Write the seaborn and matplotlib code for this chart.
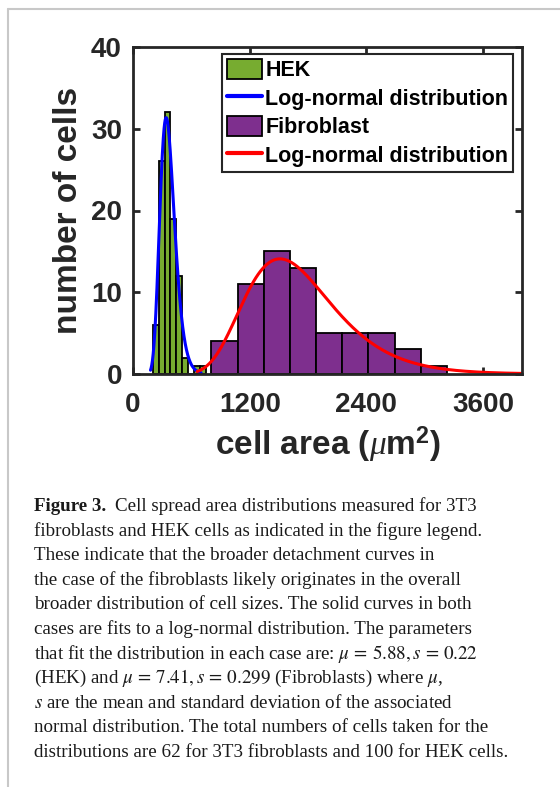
import numpy as np
import matplotlib
matplotlib.use("Agg")
import matplotlib.pyplot as plt
import seaborn as sns
from matplotlib.patches import Patch
from matplotlib.lines import Line2D

# histogram bins (cell area, um^2) and counts
hek_edges = [202, 263, 324, 385, 446, 507, 568, 629, 690, 751]
hek_counts = [6, 26, 32, 19, 12, 2, 0, 1, 1]
fib_edges = [807, 1076, 1345, 1614, 1883, 2152, 2421, 2690, 2959, 3228]
fib_counts = [4, 11, 15, 13, 5, 5, 5, 3, 1]

# log-normal fit parameters from the caption
hek_mu, hek_s = 5.88, 0.22
fib_mu, fib_s = 7.41, 0.299

x_ticks = [0, 1200, 2400, 3600]
y_ticks = [0, 10, 20, 30, 40]

caption_lines = [
    "fibroblasts and HEK cells as indicated in the figure legend.",
    "These indicate that the broader detachment curves in",
    "the case of the fibroblasts likely originates in the overall",
    "broader distribution of cell sizes. The solid curves in both",
    "cases are fits to a log-normal distribution. The parameters",
    r"that fit the distribution in each case are: $\mu\,=\,5.88, s\,=\,0.22$",
    r"(HEK) and $\mu\,=\,7.41, s\,=\,0.299$ (Fibroblasts) where $\mu$,",
    r"$s$ are the mean and standard deviation of the associated",
    "normal distribution. The total numbers of cells taken for the",
    "distributions are 62 for 3T3 fibroblasts and 100 for HEK cells.",
]

GREEN = "#77AC30"
PURPLE = "#7E2F8E"
DARK = "#262626"


def lognormal_curve(mu, s, scale, lo, hi):
    xs = np.linspace(lo, hi, 400)
    ys = scale / (xs * s * np.sqrt(2 * np.pi)) * np.exp(-(np.log(xs) - mu) ** 2 / (2 * s ** 2))
    return xs, ys


sns.set_style("ticks")
plt.rcParams["font.family"] = ["Liberation Sans", "DejaVu Sans"]
plt.rcParams["mathtext.fontset"] = "custom"
plt.rcParams["mathtext.it"] = "Liberation Serif:italic"
plt.rcParams["mathtext.bf"] = "Liberation Sans:bold"
plt.rcParams["mathtext.rm"] = "Liberation Sans:bold"

W, H = 560, 787
fig = plt.figure(figsize=(W / 100, H / 100), dpi=100)
ax = fig.add_axes([133 / W, 1 - 374 / H, (522 - 133) / W, (374 - 47) / H])

hek_centers = [(a + b) / 2 for a, b in zip(hek_edges[:-1], hek_edges[1:])]
fib_centers = [(a + b) / 2 for a, b in zip(fib_edges[:-1], fib_edges[1:])]

sns.histplot(x=hek_centers, weights=hek_counts, bins=hek_edges, ax=ax,
             color=GREEN, alpha=1, edgecolor="black", linewidth=1.3)
hek_scale = sum(hek_counts) * (hek_edges[1] - hek_edges[0])
xs, ys = lognormal_curve(hek_mu, hek_s, hek_scale, 180, 700)
sns.lineplot(x=xs, y=ys, ax=ax, color="blue", linewidth=2.2, sort=False)

sns.histplot(x=fib_centers, weights=fib_counts, bins=fib_edges, ax=ax,
             color=PURPLE, alpha=1, edgecolor="black", linewidth=1.3)
fib_scale = sum(fib_counts) * (fib_edges[1] - fib_edges[0])
xs, ys = lognormal_curve(fib_mu, fib_s, fib_scale, 660, 4000)
sns.lineplot(x=xs, y=ys, ax=ax, color="red", linewidth=2.2, sort=False)

ax.set_xlim(0, 4000)
ax.set_ylim(0, 40)
ax.set_xticks(x_ticks)
ax.set_yticks(y_ticks)
ax.tick_params(axis="both", direction="in", length=5, width=2, top=True, right=True,
               labelsize=20, colors=DARK)
ax.tick_params(axis="x", pad=13)
ax.tick_params(axis="y", pad=8)
for lbl in ax.get_xticklabels() + ax.get_yticklabels():
    lbl.set_fontweight("bold")
for sp in ax.spines.values():
    sp.set_visible(True)
    sp.set_linewidth(2)
    sp.set_color(DARK)

ax.set_xlabel(r"cell area ($\mu$m$^{\mathbf{2}}$)", fontsize=24, fontweight="bold",
              color=DARK, labelpad=5)
ax.set_ylabel("number of cells", fontsize=24, fontweight="bold", color=DARK, labelpad=5)

handles = [
    Patch(facecolor=GREEN, edgecolor="black", linewidth=1.3),
    Line2D([], [], color="blue", linewidth=3),
    Patch(facecolor=PURPLE, edgecolor="black", linewidth=1.3),
    Line2D([], [], color="red", linewidth=3),
]
labels = ["HEK", "Log-normal distribution", "Fibroblast", "Log-normal distribution"]
leg = ax.legend(handles, labels, loc="upper right", bbox_to_anchor=(513 / W, 1 - 54 / H),
                bbox_transform=fig.transFigure, fancybox=False, framealpha=1,
                edgecolor=DARK, fontsize=15.5, handlelength=1.65, handleheight=1.1,
                handletextpad=0.15, borderpad=0.22, borderaxespad=0, labelspacing=0.27)
leg.get_frame().set_linewidth(1.5)
for t in leg.get_texts():
    t.set_fontweight("bold")
    t.set_color("black")

# caption
cap_kw = dict(fontsize=13.7, fontweight="normal", family=["Liberation Serif", "DejaVu Serif"],
              color="#1a1a1a", va="baseline", ha="left", math_fontfamily="stix")
x0 = 34 / W
y_first = 511
spacing = 24.6
fig.canvas.draw()
renderer = fig.canvas.get_renderer()
t0 = fig.text(x0, 1 - y_first / H, "Figure 3.", **{**cap_kw, "fontweight": "bold"})
bb = t0.get_window_extent(renderer)
fig.text((bb.x1 + 9) / W, 1 - y_first / H,
         "Cell spread area distributions measured for 3T3", **cap_kw)
for i, line in enumerate(caption_lines, start=1):
    fig.text(x0, 1 - (y_first + i * spacing) / H, line, **cap_kw)

# page border
fig.add_artist(Line2D([8 / W, 8 / W], [0, 1 - 9 / H], transform=fig.transFigure,
                      color="#c8c8c8", linewidth=1.5))
fig.add_artist(Line2D([8 / W, 1], [1 - 9 / H, 1 - 9 / H], transform=fig.transFigure,
                      color="#c8c8c8", linewidth=1.5))

fig.savefig("out.png", dpi=100)
